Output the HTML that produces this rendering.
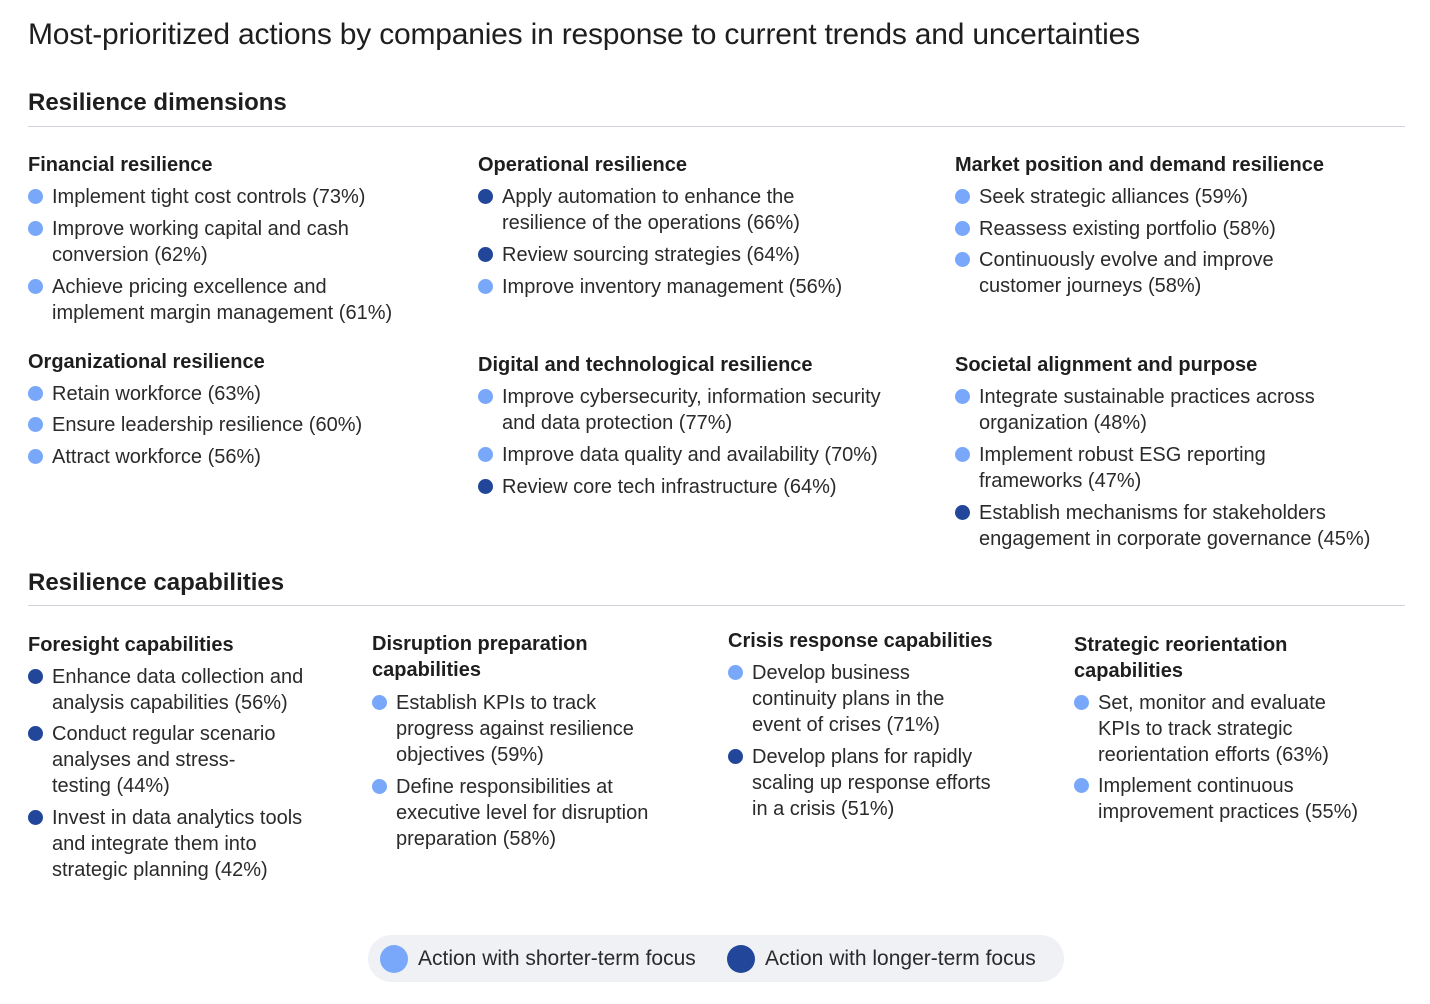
<!DOCTYPE html>
<html><head><meta charset="utf-8">
<style>
html,body{margin:0;padding:0;background:#fff;}
#root{position:relative;width:1430px;height:1004px;overflow:hidden;font-family:"Liberation Sans",Arial,sans-serif;color:#222;}
.t{position:absolute;white-space:nowrap;}
.title{left:28px;top:16px;font-size:30px;line-height:38px;color:#1e1e1e;letter-spacing:-0.2px;}
.sec{font-size:24px;font-weight:bold;line-height:30px;color:#1e1e1e;}
.rule{position:absolute;left:28px;width:1377px;height:1px;background:#cfd4db;}
.hd{position:absolute;font-size:20px;font-weight:bold;line-height:26px;white-space:nowrap;color:#1e1e1e;}
.it{position:absolute;font-size:20px;line-height:26px;white-space:nowrap;color:#2a2a2a;}
.dot{position:absolute;width:15px;height:15px;border-radius:50%;}
.light{background:#79a8fb;}
.dark{background:#22479a;}
#legend{position:absolute;left:368px;top:935px;width:696px;height:47px;border-radius:24px;background:#f0f1f5;}
</style></head>
<body>
<div id="root">
<div class="t title">Most-prioritized actions by companies in response to current trends and uncertainties</div>
<div class="t sec" style="left:28px;top:88px">Resilience dimensions</div>
<div class="rule" style="top:126px"></div>
<div class="t sec" style="left:28px;top:568px">Resilience capabilities</div>
<div class="rule" style="top:605px"></div>
<div id="legend"></div>
</div>
<script>
const groups = [
 {name:"financial-resilience",x:28,hy:165,head:["Financial resilience"],items:[
  [197,"l",["Implement tight cost controls (73%)"]],
  [229,"l",["Improve working capital and cash","conversion (62%)"]],
  [287,"l",["Achieve pricing excellence and","implement margin management (61%)"]]]},
 {name:"organizational-resilience",x:28,hy:362,head:["Organizational resilience"],items:[
  [394,"l",["Retain workforce (63%)"]],
  [425,"l",["Ensure leadership resilience (60%)"]],
  [457,"l",["Attract workforce (56%)"]]]},
 {name:"operational-resilience",x:478,hy:165,head:["Operational resilience"],items:[
  [197,"d",["Apply automation to enhance the","resilience of the operations (66%)"]],
  [255,"d",["Review sourcing strategies (64%)"]],
  [287,"l",["Improve inventory management (56%)"]]]},
 {name:"digital-resilience",x:478,hy:365,head:["Digital and technological resilience"],items:[
  [397,"l",["Improve cybersecurity, information security","and data protection (77%)"]],
  [455,"l",["Improve data quality and availability (70%)"]],
  [487,"d",["Review core tech infrastructure (64%)"]]]},
 {name:"market-resilience",x:955,hy:165,head:["Market position and demand resilience"],items:[
  [197,"l",["Seek strategic alliances (59%)"]],
  [229,"l",["Reassess existing portfolio (58%)"]],
  [260,"l",["Continuously evolve and improve","customer journeys (58%)"]]]},
 {name:"societal-alignment",x:955,hy:365,head:["Societal alignment and purpose"],items:[
  [397,"l",["Integrate sustainable practices across","organization (48%)"]],
  [455,"l",["Implement robust ESG reporting","frameworks (47%)"]],
  [513,"d",["Establish mechanisms for stakeholders","engagement in corporate governance (45%)"]]]},
 {name:"foresight-capabilities",x:28,hy:645,head:["Foresight capabilities"],items:[
  [677,"d",["Enhance data collection and","analysis capabilities (56%)"]],
  [734,"d",["Conduct regular scenario","analyses and stress-","testing (44%)"]],
  [818,"d",["Invest in data analytics tools","and integrate them into","strategic planning (42%)"]]]},
 {name:"disruption-preparation",x:372,hy:644,head:["Disruption preparation","capabilities"],items:[
  [703,"l",["Establish KPIs to track","progress against resilience","objectives (59%)"]],
  [787,"l",["Define responsibilities at","executive level for disruption","preparation (58%)"]]]},
 {name:"crisis-response",x:728,hy:641,head:["Crisis response capabilities"],items:[
  [673,"l",["Develop business","continuity plans in the","event of crises (71%)"]],
  [757,"d",["Develop plans for rapidly","scaling up response efforts","in a crisis (51%)"]]]},
 {name:"strategic-reorientation",x:1074,hy:645,head:["Strategic reorientation","capabilities"],items:[
  [703,"l",["Set, monitor and evaluate","KPIs to track strategic","reorientation efforts (63%)"]],
  [786,"l",["Implement continuous","improvement practices (55%)"]]]}
];
const root = document.getElementById('root');
groups.forEach(g => {
  const h = document.createElement('div');
  h.className = 'hd';
  
  
  h.style.left = g.x + 'px';
  h.style.top = (g.hy - 13) + 'px';
  h.innerHTML = g.head.join('<br>');
  root.appendChild(h);
  g.items.forEach((it, i) => {
    const d = document.createElement('div');
    d.className = 'dot ' + (it[1] === 'l' ? 'light' : 'dark');
    
    
    d.style.left = (g.x) + 'px';
    d.style.top = (it[0] - 8) + 'px';
    root.appendChild(d);
    const t = document.createElement('div');
    t.className = 'it';
    
    
    t.style.left = (g.x + 24) + 'px';
    t.style.top = (it[0] - 13) + 'px';
    t.innerHTML = it[2].join('<br>');
    root.appendChild(t);
  });
});
const legend = [[380, 'light', 'Action with shorter-term focus', 'legend-shorter-term'], [727, 'dark', 'Action with longer-term focus', 'legend-longer-term']];
legend.forEach(l => {
  const c = document.createElement('div');
  c.className = 'dot ' + l[1];
  
  
  c.style.left = l[0] + 'px';
  c.style.top = '945px';
  c.style.width = '28px';
  c.style.height = '28px';
  root.appendChild(c);
  const t = document.createElement('div');
  t.className = 'it';
  
  
  t.style.left = (l[0] + 38) + 'px';
  t.style.top = '946px';
  t.style.fontSize = '21px';
  t.textContent = l[2];
  root.appendChild(t);
});
</script>
</body></html>
